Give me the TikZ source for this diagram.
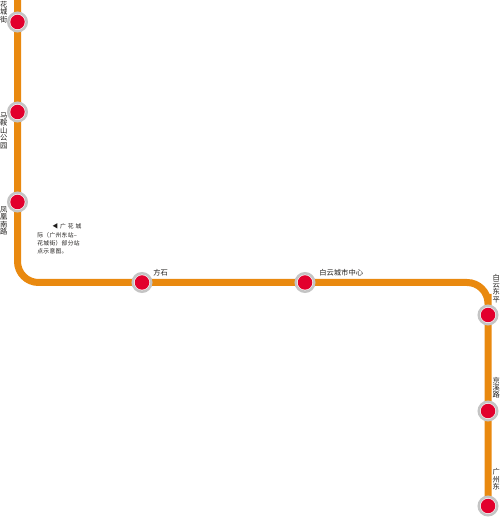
\documentclass[tikz,border=0pt]{standalone}
\usepackage{fontspec}
\usepackage{xcolor}
\newfontfamily\cjk{Noto Sans CJK SC}
\newfontfamily\cjknote[LetterSpace=5]{Noto Sans CJK SC}
\definecolor{lineorange}{HTML}{E9890F}
\definecolor{stationred}{HTML}{E2002D}
\definecolor{ringgray}{HTML}{C4C4C4}
\definecolor{inkdark}{HTML}{1E1C1A}
\usetikzlibrary{backgrounds}

\begin{document}
\begin{tikzpicture}[
		stationring/.style={ringgray, line width=0.05cm, fill=white},
		stationdot/.style={circle, fill=stationred, minimum size=0.29cm, inner sep=0pt},
		stationname/.style={font=\cjk\fontsize{4.15}{4.2}\selectfont, inkdark, align=center, inner sep=0pt},
		metroline/.style={lineorange, line width=0.14cm, rounded corners=0.42cm}
	]
		\useasboundingbox (0,0) rectangle (10,10.34);

		% Stations
		\foreach \name/\xpos/\ypos in {huacheng/0.35/9.90, maanshan/0.35/8.10, fenghuang/0.35/6.30, fangshi/2.84/4.69, baiyun/6.10/4.69, dongping/9.76/4.04, jingxi/9.76/2.12, guangzhoudong/9.76/0.22} {
			\draw[stationring] (\xpos,\ypos) circle (0.185);
			\node[stationdot] (\name) at (\xpos,\ypos) {};
		}

		% Line ends and corners
		\coordinate (linetop) at (0.35,10.34);
		\coordinate (cornerwest) at (0.35,4.69);
		\coordinate (cornereast) at (9.76,4.69);

		% Line under the stations
		\begin{pgfonlayer}{background}
			\draw[metroline] (linetop) -- (huacheng.center) -- (maanshan.center) -- (fenghuang.center) -- (cornerwest) -- (fangshi.center) -- (baiyun.center) -- (cornereast) -- (dongping.center) -- (jingxi.center) -- (guangzhoudong.center);
		\end{pgfonlayer}

		% Station names
		\node[stationname, anchor=south] (huachenglabel) at (0.075,9.88) {花\\城\\街};
		\node[stationname, anchor=north] (maanshanlabel) at (0.075,8.09) {马\\鞍\\山\\公\\园};
		\node[stationname, anchor=north] (fenghuanglabel) at (0.075,6.21) {凤\\凰\\南\\路};
		\node[stationname, anchor=south west] (fangshilabel) at (3.06,4.82) {方石};
		\node[stationname, anchor=south west] (baiyunlabel) at (6.38,4.82) {白云城市中心};
		\node[stationname, anchor=north] (dongpinglabel) at (9.925,4.87) {白\\云\\东\\平};
		\node[stationname, anchor=north] (jingxilabel) at (9.925,2.81) {京\\溪\\路};
		\node[stationname, anchor=north] (guangzhoudonglabel) at (9.925,0.97) {广\\州\\东};

		% Note
		\node[font=\cjknote\fontsize{3.3}{4.7}\selectfont, inkdark, text width=0.88cm, align=left, inner sep=0pt, anchor=north west] (note) at (0.74,5.87) {\hfill ◀\ 广\ 花\ 城\\际（广州东站–\\花城街）部分站\\点示意图。};
	\end{tikzpicture}
\end{document}
